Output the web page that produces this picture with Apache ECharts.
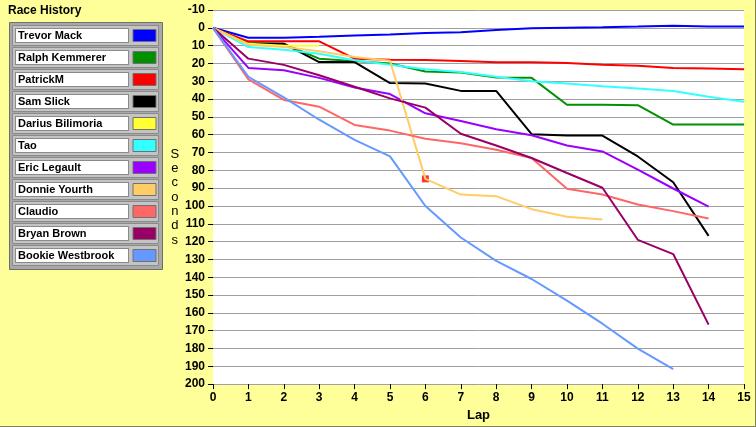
<!DOCTYPE html>
<html lang="en">
<head>
    <meta charset="UTF-8">
    <title>Race History</title>
    <script src="https://cdn.jsdelivr.net/npm/echarts@6/dist/echarts.min.js"></script>
    <style>
        html, body { margin: 0; padding: 0; background: #ffff99; }
        #main { width: 756px; height: 427px; }
    </style>
</head>
<body>
<div id="main"></div>
<script type="text/javascript">
    // lap numbers on the x axis
    var laps = ['0', '1', '2', '3', '4', '5', '6', '7', '8', '9', '10', '11', '12', '13', '14', '15'];

    // seconds behind, one value per lap
    var trevorMack = [0, 5.6, 5.6, 5.0, 4.3, 3.8, 2.9, 2.5, 1.2, 0.2, -0.1, -0.3, -0.7, -1.2, -0.7, -0.7];
    var ralphKemmerer = [0, 8.5, 9, 17.3, 18.7, 20, 24.5, 25.1, 27.9, 28.1, 43.2, 43.2, 43.4, 54.3, 54.3, 54.3];
    var patrickM = [0, 7.6, 7.6, 7.6, 17.3, 17.9, 18, 18.6, 19.4, 19.4, 19.7, 20.7, 21.3, 22.5, 22.9, 23.3];
    var samSlick = [0, 8.9, 8.9, 19.2, 19.2, 31, 31.3, 35.4, 35.4, 59.7, 60.5, 60.5, 72.2, 86.7, 116.8];
    var dariusBilimoria = [0, 9, 10, 10];
    var tao = [0, 10.8, 12.3, 14.5, 18.2, 20.7, 23.3, 24.8, 27.5, 30, 31.3, 32.8, 34, 35.5, 38.7, 41.5];
    var ericLegault = [0, 22.5, 23.8, 28.1, 33.5, 37.2, 48, 52.3, 56.9, 60.3, 66.1, 69.4, 79.6, 90.2, 100.4];
    var donnieYourth = [0, 9.5, 10.8, 13.2, 16.4, 18.5, 84.8, 93.6, 94.5, 101.8, 106.1, 107.6];
    var claudio = [0, 29, 40.5, 44.3, 54.5, 57.7, 62.3, 64.8, 68.5, 73.1, 90.4, 93.6, 99.2, 102.9, 107];
    var bryanBrown = [0, 17.3, 20.8, 26.6, 33.1, 39.6, 44.8, 59.5, 66.1, 73.1, 81.5, 89.8, 119, 127, 166.6];
    var bookieWestbrook = [0, 27.5, 39, 51.6, 62.9, 72.2, 100, 117.7, 130.8, 141, 153.1, 166.1, 180.1, 191.6];

    // lap where Donnie's marker sits
    var markedLap = 6;

    var names = ['Trevor Mack', 'Ralph Kemmerer', 'PatrickM', 'Sam Slick', 'Darius Bilimoria', 'Tao',
        'Eric Legault', 'Donnie Yourth', 'Claudio', 'Bryan Brown', 'Bookie Westbrook'];
    var colors = ['#0000ff', '#009000', '#ff0000', '#000000', '#ffff33', '#33ffff',
        '#9900ff', '#ffcc66', '#ff6666', '#990066', '#6699ff'];
    var values = [trevorMack, ralphKemmerer, patrickM, samSlick, dariusBilimoria, tao,
        ericLegault, donnieYourth, claudio, bryanBrown, bookieWestbrook];

    var font = '"Liberation Sans", Arial, sans-serif';

    var series = [];
    for (var i = 0; i < names.length; i++) {
        series.push({
            name: names[i],
            type: 'line',
            data: values[i],
            showSymbol: false,
            z: 3,
            lineStyle: {color: colors[i], width: 2},
            itemStyle: {color: colors[i]}
        });
    }
    // red square on Donnie's line
    series.push({
        name: 'marker',
        type: 'scatter',
        data: [[markedLap, donnieYourth[markedLap]]],
        symbol: 'rect',
        symbolSize: 7,
        z: 2,
        itemStyle: {color: '#ff0000'}
    });

    // grey panel behind the legend
    var panel = [{
        type: 'rect', left: 9, top: 22, z: 0,
        shape: {width: 153, height: 247},
        style: {fill: '#a8a8a8', stroke: '#6e6e6e', lineWidth: 1}
    }];
    for (var r = 0; r < names.length; r++) {
        panel.push({
            type: 'rect', left: 12, top: 25 + 22 * r, z: 1,
            shape: {width: 146, height: 20},
            style: {fill: '#c4c4c4', stroke: '#8a8a8a', lineWidth: 1}
        });
    }
    panel.push({
        type: 'line', z: 1,
        shape: {x1: 0, y1: 426.5, x2: 756, y2: 426.5},
        style: {stroke: '#808060', lineWidth: 1}
    });
    panel.push({
        type: 'line', z: 1,
        shape: {x1: 755.5, y1: 0, x2: 755.5, y2: 427},
        style: {stroke: '#808060', lineWidth: 1}
    });

    var myChart = echarts.init(document.getElementById('main'));
    var option = {
        backgroundColor: '#ffff99',
        animation: false,
        title: {
            text: 'Race History',
            left: 8, top: 5, padding: 0,
            textStyle: {fontFamily: font, fontSize: 12, fontWeight: 'bold', color: '#000'}
        },
        graphic: panel,
        legend: {
            data: names,
            orient: 'vertical',
            left: 15, top: 28, padding: 0,
            itemGap: 7,
            itemWidth: 23, itemHeight: 12,
            align: 'right',
            icon: 'rect',
            z: 10,
            selectedMode: false,
            itemStyle: {borderColor: '#707070', borderWidth: 1},
            formatter: function (name) { return '{n|' + name + '}'; },
            textStyle: {
                rich: {
                    n: {
                        width: 110, height: 13, lineHeight: 13,
                        padding: [0, 0, 0, 2],
                        align: 'left',
                        backgroundColor: '#ffffff',
                        borderColor: '#8a8a8a', borderWidth: 1,
                        fontFamily: font, fontSize: 11, fontWeight: 'bold', color: '#000'
                    }
                }
            }
        },
        grid: {
            left: 213, right: 12, top: 10, bottom: 41,
            show: true, backgroundColor: '#ffffff', borderWidth: 0
        },
        xAxis: {
            type: 'category',
            data: laps,
            boundaryGap: false,
            name: 'Lap',
            nameLocation: 'middle',
            nameGap: 24,
            nameTextStyle: {fontFamily: font, fontSize: 13, fontWeight: 'bold', color: '#000'},
            axisLine: {show: false, onZero: false},
            axisTick: {show: true, length: 5, lineStyle: {color: '#000'}},
            axisLabel: {margin: 8, fontFamily: font, fontSize: 12, fontWeight: 'bold', color: '#000'},
            splitLine: {show: false}
        },
        yAxis: {
            type: 'value',
            inverse: true,
            min: -10, max: 200, interval: 10,
            name: 'S\ne\nc\no\nn\nd\ns',
            nameLocation: 'middle',
            nameRotate: 0,
            nameGap: 28,
            nameTextStyle: {fontFamily: font, fontSize: 13, lineHeight: 14.3, color: '#000', align: 'center'},
            axisLine: {show: false, onZero: false},
            axisTick: {show: true, length: 5, lineStyle: {color: '#000'}},
            axisLabel: {margin: 8, fontFamily: font, fontSize: 12, fontWeight: 'bold', color: '#000'},
            splitLine: {show: true, lineStyle: {color: '#a0a0a0', width: 1}}
        },
        series: series
    };
    myChart.setOption(option);
</script>
</body>
</html>
